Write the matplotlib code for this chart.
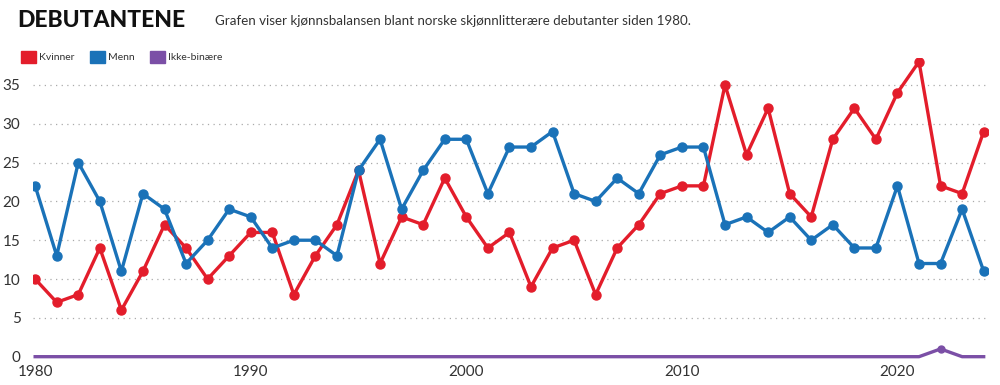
import numpy as np
import matplotlib.pyplot as plt
from matplotlib.patches import Patch

years = np.arange(1980, 2025)

kvinner = [10, 7, 8, 14, 6, 11, 17, 14, 10, 13,
           16, 16, 8, 13, 17, 24, 12, 18, 17, 23,
           18, 14, 16, 9, 14, 15, 8, 14, 17, 21,
           22, 22, 35, 26, 32, 21, 18, 28, 32, 28,
           34, 38, 22, 21, 29]

menn = [22, 13, 25, 20, 11, 21, 19, 12, 15, 19,
        18, 14, 15, 15, 13, 24, 28, 19, 24, 28,
        28, 21, 27, 27, 29, 21, 20, 23, 21, 26,
        27, 27, 17, 18, 16, 18, 15, 17, 14, 14,
        22, 12, 12, 19, 11]

ikke_binaere = [0] * 42 + [1, 0, 0]

series_names = ["Kvinner", "Menn", "Ikke-binære"]
colors = ["#e31d2b", "#1a72b8", "#7b4fa6"]

plt.rcParams["font.family"] = ["Lato", "DejaVu Sans"]

fig = plt.figure(figsize=(10, 3.85), dpi=100)
ax = fig.add_axes([0.033, 0.0675, 0.955, 0.7825])

# linjene
ax.plot(years, kvinner, color=colors[0], lw=2.4, marker="o", ms=6.5, zorder=3)
ax.plot(years, menn, color=colors[1], lw=2.4, marker="o", ms=6.5, zorder=3)
ax.plot(years, ikke_binaere, color=colors[2], lw=2.4, zorder=4)
nb = np.array(ikke_binaere)
ax.plot(years[nb > 0], nb[nb > 0], color=colors[2], lw=0, marker="o", ms=5, zorder=4)

ax.set_xlim(1979.9, 2024.2)
ax.set_ylim(-0.3, 38.5)
ax.set_yticks(range(0, 40, 5))
ax.set_xticks([1980, 1990, 2000, 2010, 2020])

for s in ax.spines.values():
    s.set_visible(False)
ax.tick_params(length=0, labelsize=11, colors="#333333")
ax.tick_params(axis="y", pad=9)
ax.tick_params(axis="x", pad=4)

# stiplet rutenett
for v in range(5, 40, 5):
    ax.axhline(v, color="#aaaaaa", lw=0.9, ls=(0, (1, 3.5)), zorder=1)

# tittel og undertittel
fig.text(0.017, 0.948, "DEBUTANTENE", fontsize=16.5, fontweight=900,
         family=["Lato", "DejaVu Sans"], color="#111111", va="center")
fig.text(0.215, 0.945, "Grafen viser kjønnsbalansen blant norske skjønnlitterære debutanter siden 1980.",
         fontsize=9.6, color="#333333", va="center")

handles = [Patch(color=c, label=n) for c, n in zip(colors, series_names)]
fig.legend(handles=handles, loc="center left", bbox_to_anchor=(0.012, 0.852),
           ncol=3, frameon=False, fontsize=7.5, handlelength=1.4, handleheight=1.5,
           handletextpad=0.3, columnspacing=1.5, labelcolor="#333333")

fig.savefig("out.png", dpi=100)
